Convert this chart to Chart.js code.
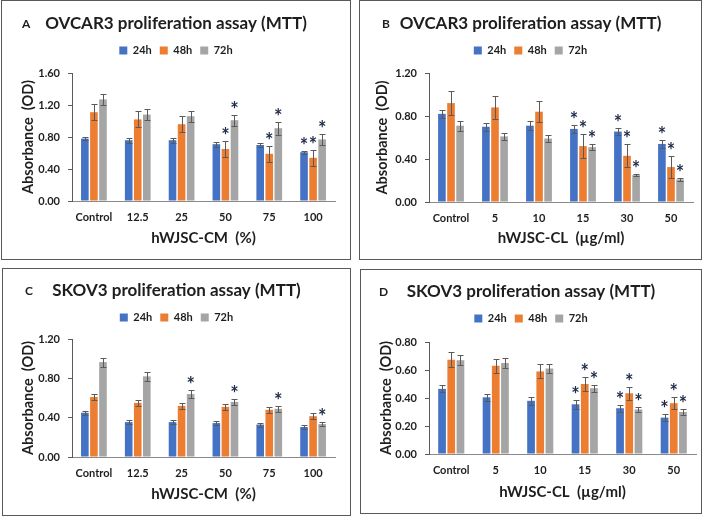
<!DOCTYPE html>
<html>
<head>
<meta charset="utf-8">
<script src="https://cdn.jsdelivr.net/npm/chart.js@4.4.0/dist/chart.umd.min.js"></script>
<style>
  body { margin: 0; background: #fff; width: 708px; height: 517px; position: relative; overflow: hidden; }
  .panel { position: absolute; border: 1px solid #595959; background: #fff; }
  .panel canvas { display: block; }
</style>
</head>
<body>
<div class="panel" style="left:1px;top:0px"><canvas id="chartA" width="348" height="258"></canvas></div>
<div class="panel" style="left:359px;top:0px"><canvas id="chartB" width="341" height="258"></canvas></div>
<div class="panel" style="left:2px;top:268px"><canvas id="chartC" width="347" height="246"></canvas></div>
<div class="panel" style="left:360px;top:269px"><canvas id="chartD" width="340" height="243"></canvas></div>
<script>
// categories and series
const catsCM = ['Control', '12.5', '25', '50', '75', '100'];
const catsCL = ['Control', '5', '10', '15', '30', '50'];
const seriesNames = ['24h', '48h', '72h'];

// A: OVCAR3, hWJSC-CM
const a24 = [0.78, 0.76, 0.76, 0.71, 0.70, 0.61];
const a48 = [1.11, 1.02, 0.96, 0.65, 0.59, 0.54];
const a72 = [1.27, 1.08, 1.06, 1.01, 0.91, 0.77];
const a24Err = [0.02, 0.03, 0.03, 0.03, 0.02, 0.02];
const a48Err = [0.10, 0.10, 0.10, 0.10, 0.10, 0.10];
const a72Err = [0.07, 0.07, 0.07, 0.07, 0.08, 0.07];
const a24Sig = [0, 0, 0, 0, 0, 1];
const a48Sig = [0, 0, 0, 1, 1, 1];
const a72Sig = [0, 0, 0, 1, 1, 1];

// B: OVCAR3, hWJSC-CL
const b24 = [0.82, 0.70, 0.71, 0.68, 0.655, 0.54];
const b48 = [0.92, 0.88, 0.84, 0.52, 0.43, 0.325];
const b72 = [0.71, 0.61, 0.59, 0.51, 0.25, 0.21];
const b24Err = [0.04, 0.035, 0.04, 0.04, 0.035, 0.04];
const b48Err = [0.11, 0.105, 0.10, 0.11, 0.105, 0.105];
const b72Err = [0.045, 0.035, 0.03, 0.03, 0.01, 0.01];
const b24Sig = [0, 0, 0, 1, 1, 1];
const b48Sig = [0, 0, 0, 1, 1, 1];
const b72Sig = [0, 0, 0, 1, 1, 1];

// C: SKOV3, hWJSC-CM
const c24 = [0.45, 0.355, 0.355, 0.345, 0.33, 0.305];
const c48 = [0.61, 0.55, 0.52, 0.51, 0.48, 0.415];
const c72 = [0.965, 0.82, 0.64, 0.56, 0.49, 0.335];
const c24Err = [0.02, 0.02, 0.02, 0.02, 0.02, 0.02];
const c48Err = [0.03, 0.03, 0.03, 0.03, 0.03, 0.03];
const c72Err = [0.045, 0.045, 0.04, 0.03, 0.03, 0.02];
const c24Sig = [0, 0, 0, 0, 0, 0];
const c48Sig = [0, 0, 0, 0, 0, 0];
const c72Sig = [0, 0, 1, 1, 1, 1];

// D: SKOV3, hWJSC-CL
const d24 = [0.465, 0.405, 0.38, 0.355, 0.327, 0.26];
const d48 = [0.674, 0.63, 0.59, 0.50, 0.434, 0.363];
const d72 = [0.67, 0.65, 0.61, 0.47, 0.318, 0.30];
const d24Err = [0.025, 0.025, 0.03, 0.03, 0.025, 0.025];
const d48Err = [0.055, 0.05, 0.05, 0.05, 0.045, 0.045];
const d72Err = [0.035, 0.035, 0.03, 0.025, 0.02, 0.02];
const d24Sig = [0, 0, 0, 1, 1, 1];
const d48Sig = [0, 0, 0, 1, 1, 1];
const d72Sig = [0, 0, 0, 1, 1, 1];

const colors = ['#4472C4', '#ED7D31', '#A5A5A5'];
const textColor = '#1e1e1e';
const FONT = 'Lato';

// error bars + significance stars
const errorBars = {
  id: 'errorBars',
  afterDatasetsDraw(chart) {
    const ctx = chart.ctx;
    const y = chart.scales.y;
    chart.data.datasets.forEach((ds, i) => {
      const meta = chart.getDatasetMeta(i);
      meta.data.forEach((bar, j) => {
        const v = ds.data[j], e = ds.errors[j];
        const top = Math.round(y.getPixelForValue(v + e)) + 0.5;
        const bot = Math.round(y.getPixelForValue(v - e)) + 0.5;
        const x = Math.round(bar.x) + 0.5;
        ctx.save();
        ctx.strokeStyle = '#5a5a5a';
        ctx.lineWidth = 1;
        ctx.beginPath();
        ctx.moveTo(x, top); ctx.lineTo(x, bot);
        ctx.moveTo(x - 3, top); ctx.lineTo(x + 3, top);
        ctx.moveTo(x - 3, bot); ctx.lineTo(x + 3, bot);
        ctx.stroke();
        if (ds.sig[j]) {
          ctx.fillStyle = '#1f2a48';
          ctx.font = 'bold 20px ' + FONT;
          ctx.textAlign = 'center';
          ctx.textBaseline = 'alphabetic';
          ctx.fillText('*', bar.x, top + 1);
        }
        ctx.restore();
      });
    });
  }
};

// empty spacer between legend and plot
const legendGap = {
  id: 'legendGap',
  beforeInit(chart, args, opts) {
    Chart.layouts.addBox(chart, {
      position: 'top', weight: 500, fullSize: true, options: {},
      width: 0, height: 0, top: 0, left: 0, right: 0, bottom: 0,
      isHorizontal() { return true; },
      update(maxWidth) { this.width = maxWidth; this.height = opts.size; },
      draw() {}
    });
  }
};

// small panel letter in the title row
const panelLetter = {
  id: 'panelLetter',
  afterDraw(chart, args, opts) {
    const tb = chart.titleBlock;
    const tOpt = chart.options.plugins.title;
    const y = tb.top + tOpt.padding.top + tOpt.font.size * 0.6;
    const ctx = chart.ctx;
    ctx.save();
    ctx.fillStyle = textColor;
    ctx.font = 'bold 12px ' + FONT;
    ctx.textAlign = 'left';
    ctx.textBaseline = 'middle';
    ctx.fillText(opts.text, opts.x, y);
    ctx.restore();
  }
};

function makePanel(id, letter, title, cats, vals, errs, sigs, yMax, step, xTitle, L) {
  const tickFont = { family: FONT, weight: 'bold', size: 11 };
  new Chart(document.getElementById(id), {
    type: 'bar',
    data: {
      labels: cats,
      datasets: seriesNames.map((name, i) => ({
        label: name,
        data: vals[i],
        errors: errs[i],
        sig: sigs[i],
        backgroundColor: colors[i],
        borderWidth: 0,
        categoryPercentage: 0.62,
        barPercentage: 0.84
      }))
    },
    options: {
      responsive: false,
      animation: false,
      layout: { padding: 0 },
      plugins: {
        title: {
          display: true, text: title, color: textColor,
          font: { family: FONT, weight: 'bold', size: 17 },
          padding: { top: 8, bottom: 3 }
        },
        legend: {
          position: 'top',
          labels: { boxWidth: 8, boxHeight: 8, padding: 8, color: textColor, font: tickFont }
        },
        tooltip: { enabled: false },
        legendGap: { size: L.gap },
        panelLetter: { text: letter, x: L.letterX }
      },
      scales: {
        x: {
          grid: { display: false, drawTicks: false },
          border: { color: '#8a8a8a' },
          ticks: { padding: 10, color: textColor, font: tickFont },
          title: {
            display: true, text: xTitle, color: textColor,
            font: { family: FONT, weight: 'bold', size: 15 },
            padding: { top: 0, bottom: L.xTitlePad }
          },
          afterFit(s) { s.height = L.xHeight; s.paddingRight = L.rightPad; }
        },
        y: {
          min: 0, max: yMax,
          ticks: { stepSize: step, padding: 8, color: textColor, font: tickFont,
                   callback: v => v.toFixed(2) },
          grid: { drawOnChartArea: false, tickLength: 4, color: '#5a5a5a' },
          border: { color: '#5a5a5a' },
          title: {
            display: true, text: 'Absorbance  (OD)', color: textColor,
            font: { family: FONT, weight: 'bold', size: 14.5 },
            padding: { top: L.yTitlePad, bottom: 0 }
          },
          afterFit(s) { s.width = L.yWidth; s.paddingTop = L.chartTop; }
        }
      }
    },
    plugins: [errorBars, legendGap, panelLetter]
  });
}

makePanel('chartA', 'A', 'OVCAR3 proliferation assay (MTT)', catsCM,
  [a24, a48, a72], [a24Err, a48Err, a72Err], [a24Sig, a48Sig, a72Sig],
  1.6, 0.4, 'hWJSC-CM  (%)',
  { rightPad: 15, gap: 7, letterX: 20, xTitlePad: 12, xHeight: 58, yTitlePad: 18, yWidth: 70, chartTop: 72 });

makePanel('chartB', 'B', 'OVCAR3 proliferation assay (MTT)', catsCL,
  [b24, b48, b72], [b24Err, b48Err, b72Err], [b24Sig, b48Sig, b72Sig],
  1.2, 0.4, 'hWJSC-CL  (\u00B5g/ml)',
  { rightPad: 8, gap: 7, letterX: 22, xTitlePad: 12, xHeight: 57, yTitlePad: 14, yWidth: 69, chartTop: 72 });

makePanel('chartC', 'C', 'SKOV3 proliferation assay (MTT)', catsCM,
  [c24, c48, c72], [c24Err, c48Err, c72Err], [c24Sig, c48Sig, c72Sig],
  1.2, 0.4, 'hWJSC-CM  (%)',
  { rightPad: 15, gap: 6, letterX: 22, xTitlePad: 12, xHeight: 58, yTitlePad: 17, yWidth: 69, chartTop: 70 });

makePanel('chartD', 'D', 'SKOV3 proliferation assay (MTT)', catsCL,
  [d24, d48, d72], [d24Err, d48Err, d72Err], [d24Sig, d48Sig, d72Sig],
  0.8, 0.2, 'hWJSC-CL  (\u00B5g/ml)',
  { rightPad: 5, gap: 8, letterX: 18, xTitlePad: 12, xHeight: 59, yTitlePad: 17, yWidth: 68, chartTop: 72 });
</script>
</body>
</html>
